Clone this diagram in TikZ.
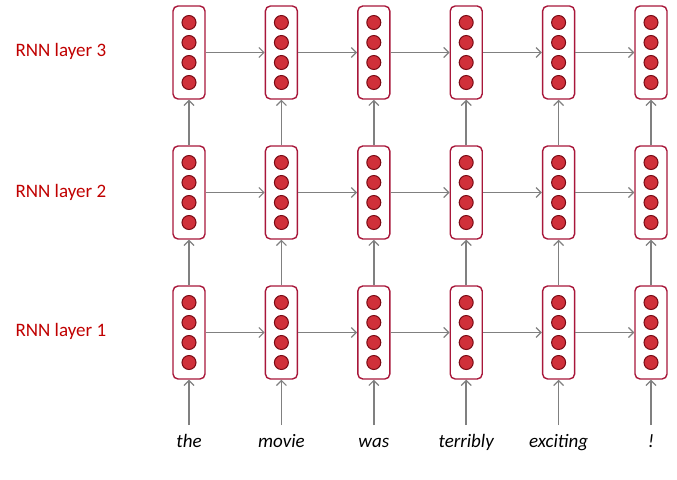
\documentclass[tikz,border=0pt]{standalone}
\usepackage{fontspec}
\setmainfont{Carlito}
\usetikzlibrary{arrows.meta}
\definecolor{boxred}{HTML}{A8173A}
\definecolor{dotfill}{HTML}{D0303A}
\definecolor{dotline}{HTML}{7A0A14}
\definecolor{labred}{HTML}{C00000}
\definecolor{arrgray}{HTML}{808080}
\tikzset{
  cellbox/.style={draw=boxred, line width=1.4pt, rounded corners=5pt, fill=white,
    minimum width=32pt, minimum height=93pt, inner sep=0pt},
  unit/.style={circle, draw=dotline, line width=1pt, fill=dotfill, minimum size=14pt, inner sep=0pt},
  conn/.style={draw=arrgray, line width=1.5pt, -{Straight Barb[length=5pt,width=10pt,line width=1.2pt]}},
  laylab/.style={anchor=west, text=labred, font=\fontsize{19}{22}\selectfont},
  word/.style={anchor=base, font=\fontsize{19}{22}\selectfont\itshape, text=black}
}
\begin{document}
\begin{tikzpicture}[x=1pt,y=-1pt]
\useasboundingbox (0,0) rectangle (677,479);
% boxes
\foreach \l/\y in {1/332.5,2/192.5,3/52.5}{
  \foreach \c in {0,...,5}{
    \node[cellbox] (b\l\c) at ({189+92.4*\c},\y) {};
    \foreach \k in {0,...,3}{
      \node[unit] (u\l\c\k) at ({189+92.4*\c},{\y-30+20*\k}) {};
    }
  }
}
% labels
\node[laylab] (L3) at (12,51) {RNN layer 3};
\node[laylab] (L2) at (12,192) {RNN layer 2};
\node[laylab] (L1) at (12,331) {RNN layer 1};
% words
\foreach \c/\w in {0/the,1/movie,2/was,3/terribly,4/exciting,5/!}{
  \node[word] (w\c) at ({189+92.4*\c},447) {\w};
  \coordinate (in\c) at ({189+92.4*\c},425);
  \draw[conn] (in\c) -- (b1\c.south);
}
% horizontal connections
\foreach \l in {1,2,3}{
  \foreach \c/\n in {0/1,1/2,2/3,3/4,4/5}{
    \draw[conn] (b\l\c.east) -- (b\l\n.west);
  }
}
% vertical connections
\foreach \c in {0,...,5}{
  \draw[conn] (b1\c.north) -- (b2\c.south);
  \draw[conn] (b2\c.north) -- (b3\c.south);
}
\end{tikzpicture}
\end{document}
